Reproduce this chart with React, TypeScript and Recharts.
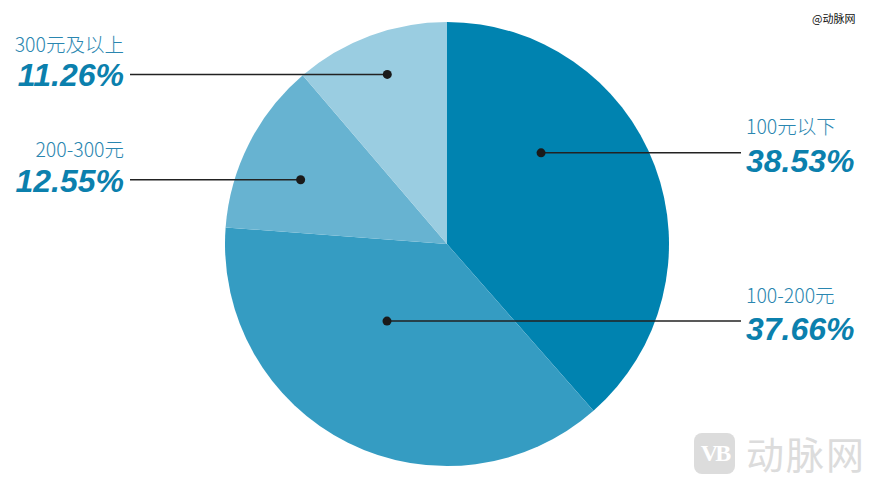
import { Pie, PieChart, Cell } from 'recharts'

const categories = ['100元以下', '100-200元', '200-300元', '300元及以上']
const shares = [38.53, 37.66, 12.55, 11.26]
const colors = ['#0083b0', '#359cc2', '#67b3d1', '#9acde1']

// where each leader dot sits inside its slice: clockwise degrees from 12 o'clock, fraction of radius
const dotAngles = [45.9, 217.9, 293.7, 340.6]
const dotRadii = [0.59, 0.44, 0.72, 0.81]
const labelOnRight = [true, true, false, false]

const data = categories.map((name, i) => ({ name, value: shares[i] }))

const RAD = Math.PI / 180

function renderLabel(props: any) {
    const { cx, cy, outerRadius, index } = props
    const a = dotAngles[index] * RAD
    const r = dotRadii[index] * outerRadius
    const x = cx + r * Math.sin(a)
    const y = cy - r * Math.cos(a)
    const right = labelOnRight[index]
    const lineEnd = right ? cx + 294 : cx - 317
    const tx = right ? lineEnd + 5 : lineEnd - 6
    const anchor = right ? 'start' : 'end'
    return (
        <g key={`lbl-${index}`}>
            <line x1={x} y1={y} x2={lineEnd} y2={y} stroke="#222" strokeWidth={1.5} />
            <circle cx={x} cy={y} r={4.5} fill="#1a1a1a" />
            <text
                x={tx} y={y - (right ? 27 : 31)} textAnchor={anchor} dominantBaseline="central"
                fill="#2a86b0" fontSize={19.5} fontWeight={300}
                fontFamily="'Noto Sans CJK SC', 'Noto Sans', sans-serif"
            >
                {categories[index]}
            </text>
            <text
                x={tx} y={y + (right ? 8 : 1)} textAnchor={anchor} dominantBaseline="central"
                fill="#0b80ad" fontSize={32} fontWeight="bold" fontStyle="italic"
                fontFamily="'Liberation Sans', Arial, sans-serif"
            >
                {shares[index].toFixed(2)}%
            </text>
        </g>
    )
}

export default function App() {
    return (
        <div style={{ position: 'fixed', left: 0, top: 0, width: 877, height: 486, background: '#fff' }}>
            <PieChart width={877} height={486}>
                <Pie
                    data={data} dataKey="value" nameKey="name"
                    cx={442} cy={239} outerRadius={222}
                    startAngle={90} endAngle={-270}
                    stroke="none" label={renderLabel} labelLine={false}
                    isAnimationActive={false}
                >
                    {data.map((d, i) => <Cell key={d.name} fill={colors[i]} />)}
                </Pie>
            </PieChart>
            <div style={{
                position: 'absolute', left: 812, top: 10, fontSize: 11, color: '#111',
                fontFamily: "'Noto Sans CJK SC', sans-serif",
            }}>@动脉网</div>
            <div style={{
                position: 'absolute', left: 694, top: 433, width: 41, height: 41, borderRadius: 8,
                background: '#dcdcdc', color: '#fff', fontSize: 24, fontWeight: 'bold',
                fontFamily: "'Liberation Serif', serif", display: 'flex', alignItems: 'center',
                justifyContent: 'center', letterSpacing: -3,
            }}>VB</div>
            <div style={{
                position: 'absolute', left: 746, top: 428, fontSize: 38, color: '#dcdcdc',
                fontFamily: "'Noto Sans CJK SC', sans-serif", lineHeight: '50px', letterSpacing: 2,
            }}>动脉网</div>
        </div>
    )
}
